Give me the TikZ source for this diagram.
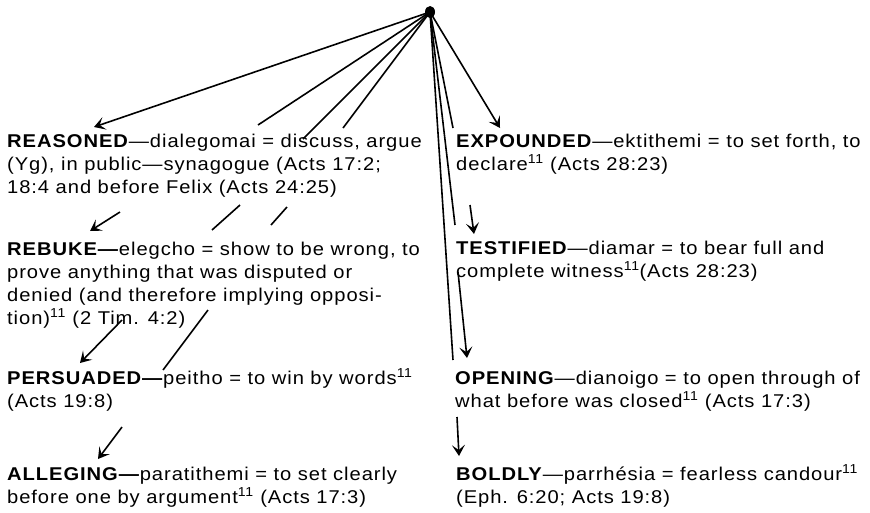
\documentclass[tikz,border=0pt]{standalone}
\usepackage{fontspec}
\setmainfont{Liberation Sans}[LetterSpace=5,FakeStretch=1.09]
\usetikzlibrary{arrows.meta,shapes.geometric}
\begin{document}
\begin{tikzpicture}[x=1pt,y=-1pt,
  txt/.style={anchor=base west, inner sep=0pt, align=left, font=\fontsize{18.5}{23}\selectfont},
  ln/.style={line width=1.6pt},
  arr/.style={line width=1.6pt, -{Stealth[length=11pt,width=13pt,inset=5pt]}},
]
\useasboundingbox (0,0) rectangle (870,512);
\node[ellipse, fill, inner sep=0pt, minimum width=10pt, minimum height=12pt] (top) at (430,12) {};

% text blocks (anchor = baseline of the last line)
\node[txt] (reasoned) at (7,193) {\textbf{REASONED}—dialegomai = discuss, argue\\(Yg), in public—synagogue (Acts 17:2;\\18:4 and before Felix (Acts 24:25)};
\node[txt] (rebuke) at (7,324) {\textbf{REBUKE—}elegcho = show to be wrong, to\\prove anything that was disputed or\\denied (and therefore implying opposi-\\tion)\textsuperscript{11} (2 Tim. 4:2)};
\node[txt] (persuaded) at (7,407) {\textbf{PERSUADED—}peitho = to win by words\textsuperscript{11}\\(Acts 19:8)};
\node[txt] (alleging) at (7,503) {\textbf{ALLEGING—}paratithemi = to set clearly\\before one by argument\textsuperscript{11} (Acts 17:3)};

\node[txt] (expounded) at (456,170) {\textbf{EXPOUNDED}—ektithemi = to set forth, to\\declare\textsuperscript{11} (Acts 28:23)};
\node[txt] (testified) at (456,277) {\textbf{TESTIFIED}—diamar = to bear full and\\complete witness\textsuperscript{11}(Acts 28:23)};
\node[txt] (opening) at (455,407) {\textbf{OPENING}—dianoigo = to open through of\\what before was closed\textsuperscript{11} (Acts 17:3)};
\node[txt] (boldly) at (456,503) {\textbf{BOLDLY}—parrhésia = fearless candour\textsuperscript{11}\\(Eph. 6:20; Acts 19:8)};

% free ends
\coordinate (r1) at (94,127);
\coordinate (l2) at (258,125);
\coordinate (l3) at (303,139);
\coordinate (l4) at (343,128);
\coordinate (l5) at (453,360);
\coordinate (l6) at (455,225);
\coordinate (l7) at (453,128);
\coordinate (e1) at (500,128);
\coordinate (a9s) at (120,212);   \coordinate (a9e) at (90,231);
\coordinate (s10s) at (240,205);  \coordinate (s10e) at (212,230);
\coordinate (s11s) at (287,207);  \coordinate (s11e) at (271,225);
\coordinate (a12s) at (122,320);  \coordinate (a12e) at (80,363);
\coordinate (s13s) at (208,310);  \coordinate (s13e) at (163,370);
\coordinate (a14s) at (122,427);  \coordinate (a14e) at (98,459);
\coordinate (a15s) at (470,205);  \coordinate (a15e) at (474,234);
\coordinate (a16s) at (458,272);  \coordinate (a16e) at (467,358);
\coordinate (a17s) at (457,417);  \coordinate (a17e) at (459,456);

\draw[arr] (top.center) -- (r1);
\draw[ln] (top.center) -- (l2);
\draw[ln] (top.center) -- (l3);
\draw[ln] (top.center) -- (l4);
\draw[ln] (top.center) -- (l5);
\draw[ln] (top.center) -- (l6);
\draw[ln] (top.center) -- (l7);
\draw[arr] (top.center) -- (e1);

\draw[arr] (a9s) -- (a9e);
\draw[ln] (s10s) -- (s10e);
\draw[ln] (s11s) -- (s11e);
\draw[arr] (a12s) -- (a12e);
\draw[ln] (s13s) -- (s13e);
\draw[arr] (a14s) -- (a14e);
\draw[arr] (a15s) -- (a15e);
\draw[arr] (a16s) -- (a16e);
\draw[arr] (a17s) -- (a17e);
\end{tikzpicture}
\end{document}
